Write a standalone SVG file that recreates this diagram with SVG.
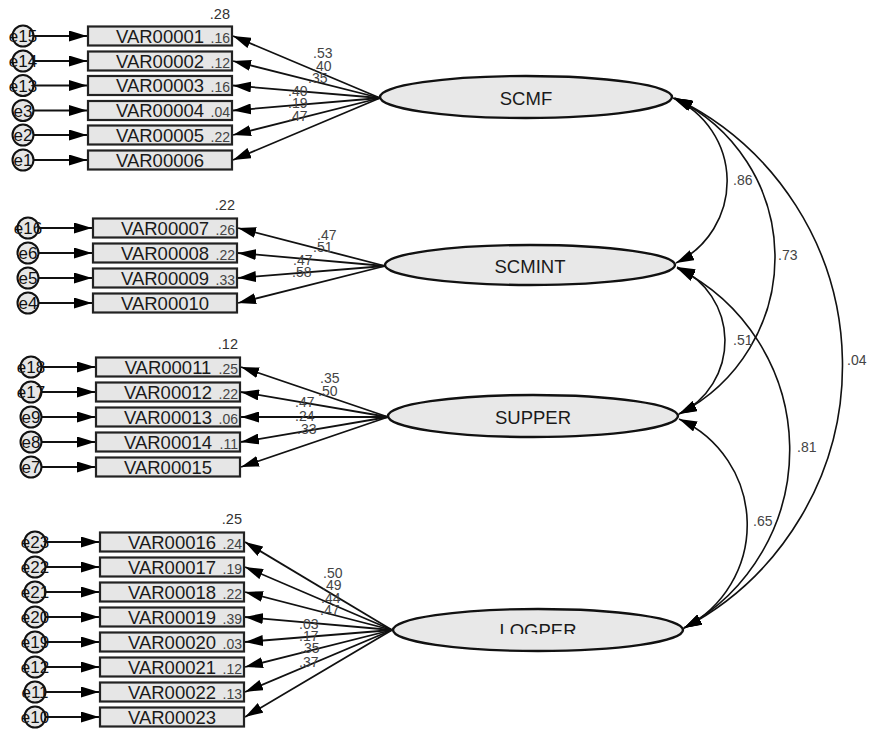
<svg xmlns="http://www.w3.org/2000/svg" width="870" height="729" viewBox="0 0 870 729">
<style>
.box{fill:#e6e6e6;stroke:#222;stroke-width:2.2}
.var{font-family:"Liberation Sans",Arial,sans-serif;font-size:18.5px;fill:#1a1a1a;text-anchor:middle}
.sm{font-family:"Liberation Sans",Arial,sans-serif;font-size:14px;fill:#444;text-anchor:end}
.r2{font-family:"Liberation Sans",Arial,sans-serif;font-size:14.5px;fill:#333;text-anchor:end}
.ld{font-family:"Liberation Sans",Arial,sans-serif;font-size:14px;fill:#444}
.err{fill:#e6e6e6;stroke:#111;stroke-width:2}
.etx{font-family:"Liberation Sans",Arial,sans-serif;font-size:17px;fill:#111;text-anchor:middle}
.lat{fill:#e8e8e8;stroke:#111;stroke-width:2.4}
.ltx{font-family:"Liberation Sans",Arial,sans-serif;font-size:18.5px;fill:#1a1a1a;text-anchor:middle}
.cn{fill:none;stroke:#111;stroke-width:1.8}
.ar{marker-end:url(#ah)}
.cv{fill:none;stroke:#111;stroke-width:1.6;marker-start:url(#ah);marker-end:url(#ah)}
</style>
<defs>
<marker id="ah" markerUnits="userSpaceOnUse" markerWidth="18" markerHeight="11" viewBox="0 0 18 11" refX="18" refY="5.5" orient="auto-start-reverse"><path d="M0,0 L18,5.5 L0,11 z" fill="#000"/></marker>
<clipPath id="lclip"><rect x="380" y="590" width="320" height="44"/></clipPath>
</defs>
<rect width="870" height="729" fill="#fff"/>

<g id="connectors">
<line class="cn ar" x1="33" y1="36" x2="87" y2="36"/>
<line class="cn ar" x1="33" y1="61" x2="87" y2="61"/>
<line class="cn ar" x1="33" y1="85.5" x2="87" y2="85.5"/>
<line class="cn ar" x1="33" y1="110.5" x2="87" y2="110.5"/>
<line class="cn ar" x1="33" y1="135" x2="87" y2="135"/>
<line class="cn ar" x1="33" y1="160" x2="87" y2="160"/>
<line class="cn ar" x1="38" y1="228" x2="92" y2="228"/>
<line class="cn ar" x1="38" y1="253" x2="92" y2="253"/>
<line class="cn ar" x1="38" y1="278" x2="92" y2="278"/>
<line class="cn ar" x1="38" y1="303" x2="92" y2="303"/>
<line class="cn ar" x1="41" y1="367" x2="95" y2="367"/>
<line class="cn ar" x1="41" y1="392" x2="95" y2="392"/>
<line class="cn ar" x1="41" y1="417" x2="95" y2="417"/>
<line class="cn ar" x1="41" y1="442" x2="95" y2="442"/>
<line class="cn ar" x1="41" y1="467" x2="95" y2="467"/>
<line class="cn ar" x1="45" y1="542" x2="99" y2="542"/>
<line class="cn ar" x1="45" y1="567" x2="99" y2="567"/>
<line class="cn ar" x1="45" y1="592" x2="99" y2="592"/>
<line class="cn ar" x1="45" y1="617" x2="99" y2="617"/>
<line class="cn ar" x1="45" y1="642" x2="99" y2="642"/>
<line class="cn ar" x1="45" y1="667" x2="99" y2="667"/>
<line class="cn ar" x1="45" y1="692" x2="99" y2="692"/>
<line class="cn ar" x1="45" y1="717" x2="99" y2="717"/>

<line class="cn ar" x1="380" y1="98" x2="233" y2="36"/>
<line class="cn ar" x1="380" y1="98" x2="233" y2="61"/>
<line class="cn ar" x1="380" y1="98" x2="233" y2="85.5"/>
<line class="cn ar" x1="380" y1="98" x2="233" y2="110.5"/>
<line class="cn ar" x1="380" y1="98" x2="233" y2="135"/>
<line class="cn ar" x1="380" y1="98" x2="233" y2="160"/>
<line class="cn ar" x1="385" y1="266" x2="238" y2="228"/>
<line class="cn ar" x1="385" y1="266" x2="238" y2="253"/>
<line class="cn ar" x1="385" y1="266" x2="238" y2="278"/>
<line class="cn ar" x1="385" y1="266" x2="238" y2="303"/>
<line class="cn ar" x1="388" y1="417" x2="241" y2="367"/>
<line class="cn ar" x1="388" y1="417" x2="241" y2="392"/>
<line class="cn ar" x1="388" y1="417" x2="241" y2="417"/>
<line class="cn ar" x1="388" y1="417" x2="241" y2="442"/>
<line class="cn ar" x1="388" y1="417" x2="241" y2="467"/>
<line class="cn ar" x1="392" y1="630" x2="245" y2="542"/>
<line class="cn ar" x1="392" y1="630" x2="245" y2="567"/>
<line class="cn ar" x1="392" y1="630" x2="245" y2="592"/>
<line class="cn ar" x1="392" y1="630" x2="245" y2="617"/>
<line class="cn ar" x1="392" y1="630" x2="245" y2="642"/>
<line class="cn ar" x1="392" y1="630" x2="245" y2="667"/>
<line class="cn ar" x1="392" y1="630" x2="245" y2="692"/>
<line class="cn ar" x1="392" y1="630" x2="245" y2="717"/>

<path class="cv" d="M673,98 A91,91 0 0 1 676,263"/>
<path class="cv" d="M674,98 A176,176 0 0 1 679,414"/>
<path class="cv" d="M675,98 A297,297 0 0 1 684,628"/>
<path class="cv" d="M677,267 A81,81 0 0 1 679,414"/>
<path class="cv" d="M677,268 A203,203 0 0 1 684,628"/>
<path class="cv" d="M679,419 A116,116 0 0 1 684,628"/>

<text class="ld" x="313" y="58">.53</text>
<text class="ld" x="312" y="71">.40</text>
<text class="ld" x="308" y="83">.35</text>
<text class="ld" x="288" y="96">.40</text>
<text class="ld" x="288" y="108">.19</text>
<text class="ld" x="288" y="121">.47</text>

<text class="ld" x="317" y="240">.47</text>
<text class="ld" x="313" y="252">.51</text>
<text class="ld" x="293" y="265">.47</text>
<text class="ld" x="292" y="277">.58</text>

<text class="ld" x="320" y="383">.35</text>
<text class="ld" x="318" y="396">.50</text>
<text class="ld" x="295" y="407">.47</text>
<text class="ld" x="295" y="421">.24</text>
<text class="ld" x="297" y="434">.33</text>

<text class="ld" x="323" y="578">.50</text>
<text class="ld" x="322" y="590">.49</text>
<text class="ld" x="321" y="603">.44</text>
<text class="ld" x="320" y="615">.47</text>
<text class="ld" x="299" y="629">.03</text>
<text class="ld" x="299" y="641">.17</text>
<text class="ld" x="300" y="653">.35</text>
<text class="ld" x="299" y="667">.37</text>

<text class="ld" x="733" y="185">.86</text>
<text class="ld" x="778" y="260">.73</text>
<text class="ld" x="733" y="345">.51</text>
<text class="ld" x="847" y="365">.04</text>
<text class="ld" x="797" y="452">.81</text>
<text class="ld" x="753" y="526">.65</text>
</g>

<g id="SCMF"><ellipse class="lat" cx="526" cy="97" rx="146" ry="21"/><text class="ltx" x="526" y="105">SCMF</text></g>
<g id="SCMINT"><ellipse class="lat" cx="530" cy="265" rx="145" ry="20"/><text class="ltx" x="530" y="273">SCMINT</text></g>
<g id="SUPPER"><ellipse class="lat" cx="533" cy="416" rx="145" ry="21"/><text class="ltx" x="533" y="424">SUPPER</text></g>
<g id="LOGPER"><ellipse class="lat" cx="538" cy="630" rx="145" ry="21"/><text class="ltx" x="538" y="637" clip-path="url(#lclip)">LOGPER</text></g>

<g id="VAR00001"><rect class="box" x="88" y="26.5" width="144" height="19"/><text class="var" x="160" y="42.5">VAR00001</text><text class="sm" x="230" y="42.5">.16</text><text class="r2" x="230" y="19">.28</text></g>
<g id="VAR00002"><rect class="box" x="88" y="51.5" width="144" height="19"/><text class="var" x="160" y="67.5">VAR00002</text><text class="sm" x="230" y="67.5">.12</text></g>
<g id="VAR00003"><rect class="box" x="88" y="76" width="144" height="19"/><text class="var" x="160" y="92">VAR00003</text><text class="sm" x="230" y="92">.16</text></g>
<g id="VAR00004"><rect class="box" x="88" y="101" width="144" height="19"/><text class="var" x="160" y="117">VAR00004</text><text class="sm" x="230" y="117">.04</text></g>
<g id="VAR00005"><rect class="box" x="88" y="125.5" width="144" height="19"/><text class="var" x="160" y="141.5">VAR00005</text><text class="sm" x="230" y="141.5">.22</text></g>
<g id="VAR00006"><rect class="box" x="88" y="150.5" width="144" height="19"/><text class="var" x="160" y="166.5">VAR00006</text></g>

<g id="VAR00007"><rect class="box" x="93" y="218.5" width="144" height="19"/><text class="var" x="165" y="234.5">VAR00007</text><text class="sm" x="235" y="234.5">.26</text><text class="r2" x="235" y="210">.22</text></g>
<g id="VAR00008"><rect class="box" x="93" y="243.5" width="144" height="19"/><text class="var" x="165" y="259.5">VAR00008</text><text class="sm" x="235" y="259.5">.22</text></g>
<g id="VAR00009"><rect class="box" x="93" y="268.5" width="144" height="19"/><text class="var" x="165" y="284.5">VAR00009</text><text class="sm" x="235" y="284.5">.33</text></g>
<g id="VAR00010"><rect class="box" x="93" y="293.5" width="144" height="19"/><text class="var" x="165" y="309.5">VAR00010</text></g>

<g id="VAR00011"><rect class="box" x="96" y="357.5" width="144" height="19"/><text class="var" x="168" y="373.5">VAR00011</text><text class="sm" x="238" y="373.5">.25</text><text class="r2" x="238" y="349">.12</text></g>
<g id="VAR00012"><rect class="box" x="96" y="382.5" width="144" height="19"/><text class="var" x="168" y="398.5">VAR00012</text><text class="sm" x="238" y="398.5">.22</text></g>
<g id="VAR00013"><rect class="box" x="96" y="407.5" width="144" height="19"/><text class="var" x="168" y="423.5">VAR00013</text><text class="sm" x="238" y="423.5">.06</text></g>
<g id="VAR00014"><rect class="box" x="96" y="432.5" width="144" height="19"/><text class="var" x="168" y="448.5">VAR00014</text><text class="sm" x="238" y="448.5">.11</text></g>
<g id="VAR00015"><rect class="box" x="96" y="457.5" width="144" height="19"/><text class="var" x="168" y="473.5">VAR00015</text></g>

<g id="VAR00016"><rect class="box" x="100" y="532.5" width="144" height="19"/><text class="var" x="172" y="548.5">VAR00016</text><text class="sm" x="242" y="548.5">.24</text><text class="r2" x="242" y="524">.25</text></g>
<g id="VAR00017"><rect class="box" x="100" y="557.5" width="144" height="19"/><text class="var" x="172" y="573.5">VAR00017</text><text class="sm" x="242" y="573.5">.19</text></g>
<g id="VAR00018"><rect class="box" x="100" y="582.5" width="144" height="19"/><text class="var" x="172" y="598.5">VAR00018</text><text class="sm" x="242" y="598.5">.22</text></g>
<g id="VAR00019"><rect class="box" x="100" y="607.5" width="144" height="19"/><text class="var" x="172" y="623.5">VAR00019</text><text class="sm" x="242" y="623.5">.39</text></g>
<g id="VAR00020"><rect class="box" x="100" y="632.5" width="144" height="19"/><text class="var" x="172" y="648.5">VAR00020</text><text class="sm" x="242" y="648.5">.03</text></g>
<g id="VAR00021"><rect class="box" x="100" y="657.5" width="144" height="19"/><text class="var" x="172" y="673.5">VAR00021</text><text class="sm" x="242" y="673.5">.12</text></g>
<g id="VAR00022"><rect class="box" x="100" y="682.5" width="144" height="19"/><text class="var" x="172" y="698.5">VAR00022</text><text class="sm" x="242" y="698.5">.13</text></g>
<g id="VAR00023"><rect class="box" x="100" y="707.5" width="144" height="19"/><text class="var" x="172" y="723.5">VAR00023</text></g>

<g id="e15"><circle class="err" cx="23" cy="36" r="10.5"/><text class="etx" x="23" y="42">e15</text></g>
<g id="e14"><circle class="err" cx="23" cy="61" r="10.5"/><text class="etx" x="23" y="67">e14</text></g>
<g id="e13"><circle class="err" cx="23" cy="85.5" r="10.5"/><text class="etx" x="23" y="91.5">e13</text></g>
<g id="e3"><circle class="err" cx="23" cy="110.5" r="10.5"/><text class="etx" x="23" y="116.5">e3</text></g>
<g id="e2"><circle class="err" cx="23" cy="135" r="10.5"/><text class="etx" x="23" y="141">e2</text></g>
<g id="e1"><circle class="err" cx="23" cy="160" r="10.5"/><text class="etx" x="23" y="166">e1</text></g>

<g id="e16"><circle class="err" cx="28" cy="228" r="10.5"/><text class="etx" x="28" y="234">e16</text></g>
<g id="e6"><circle class="err" cx="28" cy="253" r="10.5"/><text class="etx" x="28" y="259">e6</text></g>
<g id="e5"><circle class="err" cx="28" cy="278" r="10.5"/><text class="etx" x="28" y="284">e5</text></g>
<g id="e4"><circle class="err" cx="28" cy="303" r="10.5"/><text class="etx" x="28" y="309">e4</text></g>

<g id="e18"><circle class="err" cx="31" cy="367" r="10.5"/><text class="etx" x="31" y="373">e18</text></g>
<g id="e17"><circle class="err" cx="31" cy="392" r="10.5"/><text class="etx" x="31" y="398">e17</text></g>
<g id="e9"><circle class="err" cx="31" cy="417" r="10.5"/><text class="etx" x="31" y="423">e9</text></g>
<g id="e8"><circle class="err" cx="31" cy="442" r="10.5"/><text class="etx" x="31" y="448">e8</text></g>
<g id="e7"><circle class="err" cx="31" cy="467" r="10.5"/><text class="etx" x="31" y="473">e7</text></g>

<g id="e23"><circle class="err" cx="35" cy="542" r="10.5"/><text class="etx" x="35" y="548">e23</text></g>
<g id="e22"><circle class="err" cx="35" cy="567" r="10.5"/><text class="etx" x="35" y="573">e22</text></g>
<g id="e21"><circle class="err" cx="35" cy="592" r="10.5"/><text class="etx" x="35" y="598">e21</text></g>
<g id="e20"><circle class="err" cx="35" cy="617" r="10.5"/><text class="etx" x="35" y="623">e20</text></g>
<g id="e19"><circle class="err" cx="35" cy="642" r="10.5"/><text class="etx" x="35" y="648">e19</text></g>
<g id="e12"><circle class="err" cx="35" cy="667" r="10.5"/><text class="etx" x="35" y="673">e12</text></g>
<g id="e11"><circle class="err" cx="35" cy="692" r="10.5"/><text class="etx" x="35" y="698">e11</text></g>
<g id="e10"><circle class="err" cx="35" cy="717" r="10.5"/><text class="etx" x="35" y="723">e10</text></g>
</svg>
